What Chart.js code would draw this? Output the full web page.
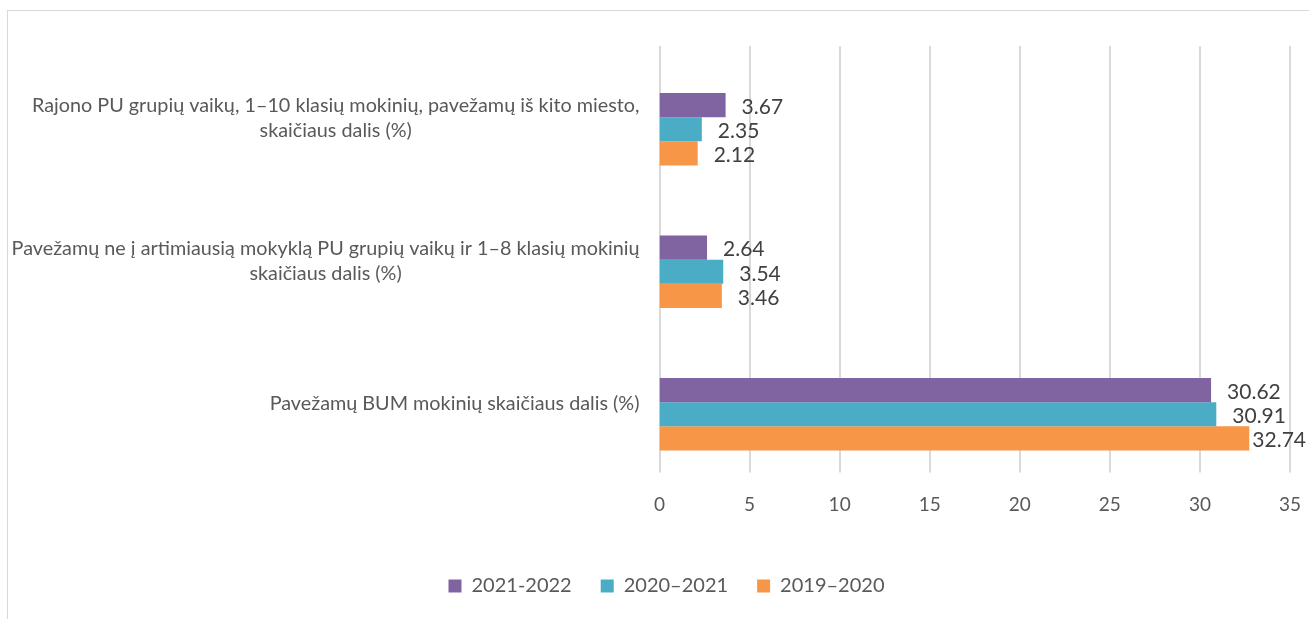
<!DOCTYPE html>
<html>
<head>
<meta charset="utf-8">
<script src="https://cdn.jsdelivr.net/npm/chart.js@4/dist/chart.umd.min.js"></script>
<style>
  html, body { margin: 0; padding: 0; background: #fff; overflow: hidden; }
  .frame { position: absolute; left: 7px; top: 10px; width: 1400px; height: 700px; border: 1px solid #d9d9d9; }
  .chart { position: absolute; left: 0; top: 0; width: 1309px; height: 619px; }
</style>
</head>
<body>
<div class="frame"></div>
<div class="chart"><canvas id="chart"></canvas></div>
<script>
// Categories, top to bottom (each one split into its printed lines).
const categories = [
  ['Rajono PU grupių vaikų, 1–10 klasių mokinių, pavežamų iš kito miesto,', 'skaičiaus dalis (%)'],
  ['Pavežamų ne į artimiausią mokyklą PU grupių vaikų ir 1–8 klasių mokinių', 'skaičiaus dalis (%)'],
  ['Pavežamų BUM mokinių skaičiaus dalis (%)']
]
const seriesNames = ['2021-2022', '2020–2021', '2019–2020']
const seriesColors = ['#8064a2', '#4bacc6', '#f79646']
const values2122 = [3.67, 2.64, 30.62]
const values2021 = [2.35, 3.54, 30.91]
const values1920 = [2.12, 3.46, 32.74]
const xMin = 0
const xMax = 35
const xStep = 5

const FONT = 'Lato, "Open Sans", "Noto Sans", sans-serif'

// Vertical grid lines (drawn a little higher than the bars, like the original).
const gridLines = {
  id: 'gridLines',
  beforeDatasetsDraw(chart) {
    const {ctx, chartArea, scales: {x}} = chart
    ctx.save()
    ctx.strokeStyle = '#d9d9d9'
    ctx.lineWidth = 2
    x.ticks.forEach(t => {
      const px = Math.round(x.getPixelForValue(t.value))
      ctx.beginPath()
      ctx.moveTo(px, chartArea.top - 12)
      ctx.lineTo(px, chartArea.bottom - 13)
      ctx.stroke()
    })
    ctx.restore()
  }
}

// Category labels: block right aligned to the axis, lines centred inside it.
const categoryLabels = {
  id: 'categoryLabels',
  afterDraw(chart) {
    const {ctx, chartArea, scales: {y}} = chart
    ctx.save()
    ctx.font = '19.8px ' + FONT
    ctx.fillStyle = '#595959'
    ctx.textAlign = 'center'
    ctx.textBaseline = 'middle'
    const lineH = 25
    categories.forEach((lines, i) => {
      const blockW = Math.max(...lines.map(l => ctx.measureText(l).width))
      const cx = chartArea.left - 20 - blockW / 2
      const cy = y.getPixelForTick(i) - 11
      const top = cy - (lines.length - 1) * lineH / 2
      lines.forEach((l, j) => ctx.fillText(l, cx, top + j * lineH))
    })
    ctx.restore()
  }
}

// Value labels to the right of each bar, pulled back in when they would run off the edge.
const valueLabels = {
  id: 'valueLabels',
  afterDatasetsDraw(chart) {
    const {ctx} = chart
    ctx.save()
    ctx.font = '21px ' + FONT
    ctx.fillStyle = '#404040'
    ctx.textAlign = 'left'
    ctx.textBaseline = 'middle'
    chart.data.datasets.forEach((ds, di) => {
      chart.getDatasetMeta(di).data.forEach((bar, i) => {
        const text = ds.data[i].toFixed(2)
        const w = ctx.measureText(text).width
        const tx = Math.min(bar.x + 16, chart.width - 3 - w)
        ctx.fillText(text, tx, bar.y + 2)
      })
    })
    ctx.restore()
  }
}

new Chart(document.getElementById('chart'), {
  type: 'bar',
  data: {
    labels: categories,
    datasets: [
      { label: seriesNames[0], data: values2122, backgroundColor: seriesColors[0] },
      { label: seriesNames[1], data: values2021, backgroundColor: seriesColors[1] },
      { label: seriesNames[2], data: values1920, backgroundColor: seriesColors[2] }
    ]
  },
  options: {
    indexAxis: 'y',
    responsive: true,
    maintainAspectRatio: false,
    animation: false,
    datasets: {
      bar: { categoryPercentage: 0.51, barPercentage: 1.0 }
    },
    layout: {
      padding: { left: 43, right: 19, top: 58, bottom: 13 }
    },
    scales: {
      x: {
        min: xMin,
        max: xMax,
        ticks: { stepSize: xStep, color: '#595959', font: { family: FONT, size: 19 }, padding: 8 },
        grid: { display: false, drawTicks: false },
        border: { display: false },
        afterFit(scale) { scale.height = 61.5 }
      },
      y: {
        ticks: { display: false },
        grid: { display: false, drawTicks: false },
        border: { display: false },
        afterFit(scale) { scale.width = 616.5 }
      }
    },
    plugins: {
      legend: {
        position: 'bottom',
        labels: {
          boxWidth: 13,
          boxHeight: 13,
          padding: 29,
          color: '#595959',
          font: { family: FONT, size: 20 }
        }
      },
      tooltip: { enabled: false }
    }
  },
  plugins: [gridLines, categoryLabels, valueLabels]
})
</script>
</body>
</html>
